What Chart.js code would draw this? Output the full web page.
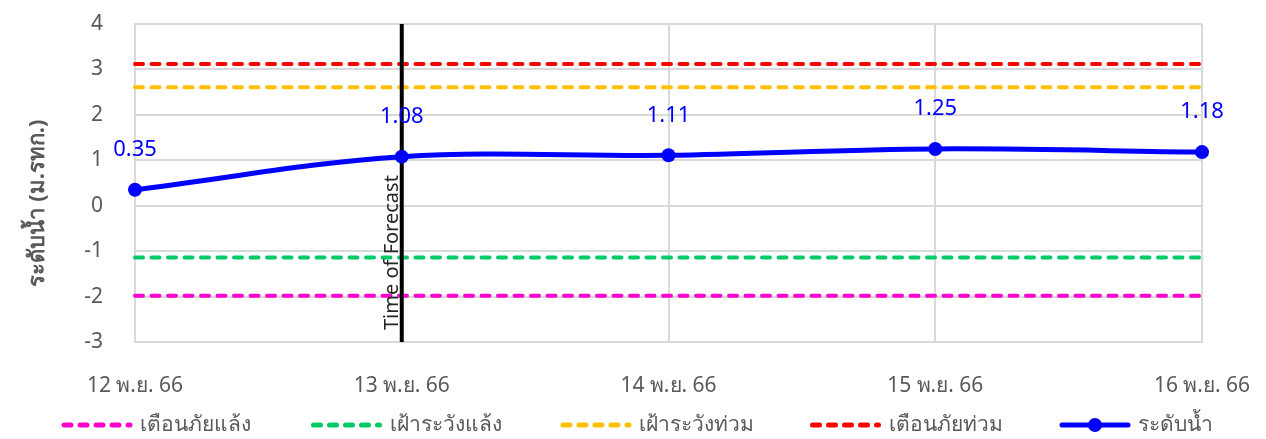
<!DOCTYPE html>
<html>
<head>
<meta charset="utf-8">
<script src="https://cdn.jsdelivr.net/npm/chart.js@4.4.0/dist/chart.umd.min.js"></script>
<style>
    html, body { margin: 0; padding: 0; background: #ffffff; }
    #wrap { width: 1266px; height: 439px; }
</style>
</head>
<body>
<div id="wrap"><canvas id="levelChart" width="1266" height="439"></canvas></div>
<script>
// ---- data ----
const dates = ['12 พ.ย. 66', '13 พ.ย. 66', '14 พ.ย. 66', '15 พ.ย. 66', '16 พ.ย. 66'];
const waterLevel = [0.35, 1.08, 1.11, 1.25, 1.18];
const droughtAlert = [-1.98, -1.98, -1.98, -1.98, -1.98];   // เตือนภัยแล้ง
const droughtWatch = [-1.14, -1.14, -1.14, -1.14, -1.14];   // เฝ้าระวังแล้ง
const floodWatch = [2.61, 2.61, 2.61, 2.61, 2.61];          // เฝ้าระวังท่วม
const floodAlert = [3.12, 3.12, 3.12, 3.12, 3.12];          // เตือนภัยท่วม
const yTicks = [-3, -2, -1, 0, 1, 2, 3, 4];
const forecastDate = '13 พ.ย. 66';

const FONT = 'Tahoma, "Noto Sans", "DejaVu Sans", sans-serif';
const GREY = '#595959';
const DASH = [8, 8.5];

function thresholdSet(label, data, color) {
    return {
        label: label,
        data: data,
        borderColor: color,
        backgroundColor: color,
        borderWidth: 4,
        borderDash: DASH,
        borderCapStyle: 'round',
        pointRadius: 0,
        tension: 0,
        order: 1
    };
}

// vertical "Time of Forecast" marker, drawn just under the water level line
const forecastMarker = {
    id: 'forecastMarker',
    beforeDatasetDraw(chart, args) {
        if (args.index !== 4) return;
        const { ctx, chartArea, scales } = chart;
        const x = scales.x.getPixelForValue(dates.indexOf(forecastDate));
        ctx.save();
        ctx.strokeStyle = '#000000';
        ctx.lineWidth = 4;
        ctx.beginPath();
        ctx.moveTo(x, chartArea.top);
        ctx.lineTo(x, chartArea.bottom);
        ctx.stroke();

        ctx.translate(x - 4, chartArea.bottom - 12);
        ctx.rotate(-Math.PI / 2);
        ctx.fillStyle = '#262626';
        ctx.font = '20px ' + FONT;
        ctx.textAlign = 'left';
        ctx.textBaseline = 'alphabetic';
        ctx.fillText('Time of Forecast', 0, 0);
        ctx.restore();
    }
};

// value labels above the water level points
const valueLabels = {
    id: 'valueLabels',
    afterDatasetsDraw(chart) {
        const { ctx } = chart;
        const meta = chart.getDatasetMeta(4);
        ctx.save();
        ctx.fillStyle = '#0000ff';
        ctx.font = '22px ' + FONT;
        ctx.textAlign = 'center';
        ctx.textBaseline = 'middle';
        meta.data.forEach((pt, i) => {
            ctx.fillText(waterLevel[i].toFixed(2), pt.x, pt.y - 40);
        });
        ctx.restore();
    }
};

// axis title + bottom legend in the Excel layout
const extras = {
    id: 'extras',
    afterDraw(chart) {
        const { ctx } = chart;
        ctx.save();
        ctx.translate(38, 203);
        ctx.rotate(-Math.PI / 2);
        ctx.fillStyle = GREY;
        ctx.font = 'bold 22px ' + FONT;
        ctx.textAlign = 'center';
        ctx.textBaseline = 'middle';
        ctx.fillText('ระดับน้ำ (ม.รทก.)', 0, 0);
        ctx.restore();

        const y = 425;
        const startX = 64;
        const slot = 249.5;
        chart.data.datasets.forEach((ds, i) => {
            const x0 = startX + i * slot;
            ctx.save();
            ctx.strokeStyle = ds.borderColor;
            ctx.lineWidth = ds.borderDash ? 5 : ds.borderWidth;
            ctx.lineCap = 'round';
            if (ds.borderDash) ctx.setLineDash([7, 9]);
            ctx.beginPath();
            ctx.moveTo(x0, y);
            ctx.lineTo(x0 + 66, y);
            ctx.stroke();
            if (ds.pointRadius) {
                ctx.setLineDash([]);
                ctx.fillStyle = ds.borderColor;
                ctx.beginPath();
                ctx.arc(x0 + 33, y, ds.pointRadius, 0, Math.PI * 2);
                ctx.fill();
            }
            ctx.fillStyle = GREY;
            ctx.font = '21px ' + FONT;
            ctx.textAlign = 'left';
            ctx.textBaseline = 'middle';
            ctx.fillText(ds.label, x0 + 76, y);
            ctx.restore();
        });
    }
};

new Chart(document.getElementById('levelChart'), {
    type: 'line',
    data: {
        labels: dates,
        datasets: [
            thresholdSet('เตือนภัยแล้ง', droughtAlert, '#ff00cc'),
            thresholdSet('เฝ้าระวังแล้ง', droughtWatch, '#00cc66'),
            thresholdSet('เฝ้าระวังท่วม', floodWatch, '#ffc000'),
            thresholdSet('เตือนภัยท่วม', floodAlert, '#ff0000'),
            {
                label: 'ระดับน้ำ',
                data: waterLevel,
                borderColor: '#0000ff',
                backgroundColor: '#0000ff',
                borderWidth: 5,
                pointRadius: 7,
                pointBorderWidth: 0,
                tension: 0.35,
                order: 0
            }
        ]
    },
    options: {
        responsive: false,
        animation: false,
        layout: { padding: { top: 24, right: 64, bottom: 0, left: 0 } },
        plugins: {
            legend: { display: false },
            tooltip: { enabled: false }
        },
        scales: {
            x: {
                offset: false,
                grid: { color: '#d9d9d9', lineWidth: 2, drawTicks: false },
                border: { color: '#d9d9d9', width: 2 },
                ticks: { color: GREY, font: { family: FONT, size: 21 }, padding: 31, maxRotation: 0 },
                afterFit(scale) {
                    scale.height = 97;
                    scale.paddingLeft = 0;
                    scale.paddingRight = 0;
                }
            },
            y: {
                min: -3,
                max: 4,
                afterBuildTicks(scale) { scale.ticks = yTicks.map(v => ({ value: v })); },
                grid: { color: '#d9d9d9', lineWidth: 2, drawTicks: false },
                border: { color: '#d9d9d9', width: 2 },
                ticks: { color: GREY, font: { family: FONT, size: 21 }, padding: 32 },
                afterFit(scale) {
                    scale.width = 135;
                    scale.paddingTop = 0;
                    scale.paddingBottom = 0;
                }
            }
        }
    },
    plugins: [forecastMarker, valueLabels, extras]
});
</script>
</body>
</html>
